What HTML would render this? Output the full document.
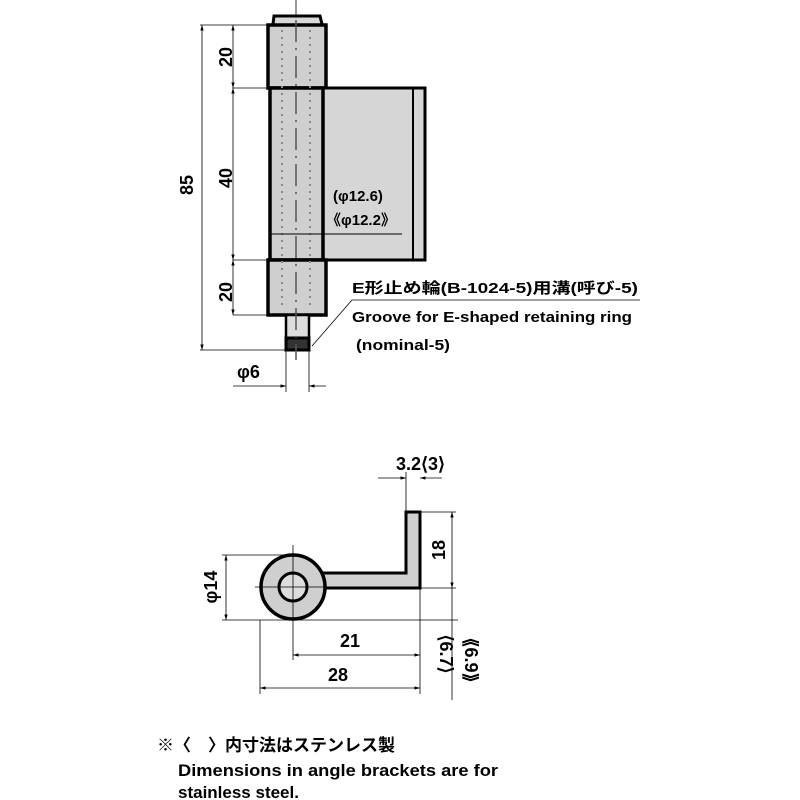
<!DOCTYPE html>
<html><head><meta charset="utf-8"><style>html,body{margin:0;padding:0;background:#fff}svg{display:block}</style></head><body>
<svg width="800" height="800" viewBox="0 0 800 800" xmlns="http://www.w3.org/2000/svg" font-family="'Liberation Sans','Noto Sans CJK JP',sans-serif">
<defs>
<marker id="a" viewBox="0 0 10 10" refX="10" refY="5" markerWidth="7" markerHeight="7" orient="auto-start-reverse"><path d="M0,2 L10,5 L0,8z" fill="#000"/></marker>
</defs>
<g stroke="#000" fill="none">
<line x1="296" y1="0" x2="296" y2="15" stroke-width="0.8"/>
<path d="M273,24 L274,16 L320,16 L322,24" stroke-width="3" fill="#d8d8d8"/>
<rect x="268" y="25" width="58" height="63" stroke-width="3.5" fill="#cfcfcf"/>
<rect x="323" y="88" width="102" height="172" stroke-width="3" fill="#d6d6d6"/>
<line x1="413" y1="88" x2="413" y2="260" stroke-width="2"/>
<rect x="270" y="88" width="53" height="172" stroke-width="3.5" fill="#cfcfcf"/>
<rect x="268" y="260" width="58" height="55" stroke-width="3.5" fill="#cfcfcf"/>
<rect x="286" y="315" width="23" height="23" stroke-width="2.5" fill="#ddd"/>
<rect x="286" y="338" width="23" height="12" stroke-width="3" fill="#333"/>
<line x1="282" y1="30" x2="282" y2="310" stroke="#888" stroke-width="2" stroke-dasharray="2,5"/>
<line x1="310" y1="30" x2="310" y2="310" stroke="#888" stroke-width="2" stroke-dasharray="2,5"/>
<line x1="296" y1="20" x2="296" y2="360" stroke="#555" stroke-width="1.5" stroke-dasharray="22,6,2,6"/>
<g stroke-width="0.8">
<line x1="200" y1="25" x2="268" y2="25"/><line x1="200" y1="350" x2="286" y2="350"/>
<line x1="233" y1="88" x2="270" y2="88"/><line x1="233" y1="260" x2="268" y2="260"/><line x1="233" y1="315" x2="268" y2="315"/>
<line x1="202" y1="25" x2="202" y2="350" marker-start="url(#a)" marker-end="url(#a)"/>
<line x1="233" y1="25" x2="233" y2="88" marker-start="url(#a)" marker-end="url(#a)"/>
<line x1="233" y1="88" x2="233" y2="260" marker-start="url(#a)" marker-end="url(#a)"/>
<line x1="233" y1="260" x2="233" y2="315" marker-start="url(#a)" marker-end="url(#a)"/>
<line x1="286" y1="350" x2="286" y2="392"/><line x1="309" y1="350" x2="309" y2="392"/>
<line x1="233" y1="386" x2="286" y2="386" marker-end="url(#a)"/>
<line x1="326" y1="386" x2="309" y2="386" marker-end="url(#a)"/>
<line x1="270" y1="234" x2="402" y2="234" stroke-width="1"/>
<line x1="352" y1="300" x2="640" y2="300"/>
<line x1="312" y1="346" x2="352" y2="300"/>
</g>
<path d="M318,573 L406,573 L406,512 L420,512 L420,588 L318,588" stroke-width="3" fill="#d0d0d0"/>
<circle cx="293" cy="587" r="32" stroke-width="3.5" fill="#cfcfcf"/>
<circle cx="293" cy="587" r="14" stroke-width="3" fill="#ddd"/>
<g stroke-width="0.8">
<line x1="293" y1="545" x2="293" y2="660"/><line x1="255" y1="587" x2="330" y2="587"/>
<line x1="222" y1="555" x2="293" y2="555"/><line x1="222" y1="620" x2="458" y2="620"/>
<line x1="226" y1="555" x2="226" y2="620" marker-start="url(#a)" marker-end="url(#a)"/>
<line x1="406" y1="512" x2="406" y2="472"/><line x1="420" y1="512" x2="420" y2="694"/>
<line x1="378" y1="478" x2="406" y2="478" marker-end="url(#a)"/>
<line x1="442" y1="478" x2="420" y2="478" marker-end="url(#a)"/>
<line x1="420" y1="512" x2="456" y2="512"/><line x1="420" y1="588" x2="456" y2="588"/>
<line x1="452" y1="512" x2="452" y2="588" marker-start="url(#a)" marker-end="url(#a)"/>
<line x1="452" y1="588" x2="452" y2="700"/>
<line x1="260" y1="620" x2="260" y2="694"/>
<line x1="293" y1="655" x2="420" y2="655" marker-start="url(#a)" marker-end="url(#a)"/>
<line x1="260" y1="688" x2="420" y2="688" marker-start="url(#a)" marker-end="url(#a)"/>
</g>
</g>
<g fill="#000" font-size="18" font-weight="bold">
<text transform="translate(232,57) rotate(-90)" text-anchor="middle">20</text>
<text transform="translate(232,178) rotate(-90)" text-anchor="middle">40</text>
<text transform="translate(232,292) rotate(-90)" text-anchor="middle">20</text>
<text transform="translate(193,185) rotate(-90)" text-anchor="middle">85</text>
<text x="237" y="378">φ6</text>
<text x="333" y="201" font-size="15">(φ12.6)</text>
<text x="326" y="225" font-size="15">《φ12.2》</text>
<text x="352" y="293" font-size="15" textLength="286" lengthAdjust="spacingAndGlyphs">E形止め輪(B-1024-5)用溝(呼び-5)</text>
<text x="352" y="322" font-size="15" textLength="280" lengthAdjust="spacingAndGlyphs">Groove for E-shaped retaining ring</text>
<text x="356" y="350" font-size="15" textLength="94" lengthAdjust="spacingAndGlyphs">(nominal-5)</text>
<text x="396" y="470">3.2⟨3⟩</text>
<text transform="translate(445,550) rotate(-90)" text-anchor="middle">18</text>
<text transform="translate(217,587) rotate(-90)" text-anchor="middle">φ14</text>
<text x="340" y="647">21</text>
<text x="328" y="681">28</text>
<text transform="translate(440,654) rotate(90)" text-anchor="middle">⟨6.7⟩</text>
<text transform="translate(465,660) rotate(90)" text-anchor="middle">⟪6.9⟫</text>
<text x="157" y="751" font-size="17">※〈　〉内寸法はステンレス製</text>
<text x="178" y="776" font-size="17" textLength="320" lengthAdjust="spacingAndGlyphs">Dimensions in angle brackets are for</text>
<text x="178" y="798" font-size="17">stainless steel.</text>
</g>
</svg>
</body></html>
